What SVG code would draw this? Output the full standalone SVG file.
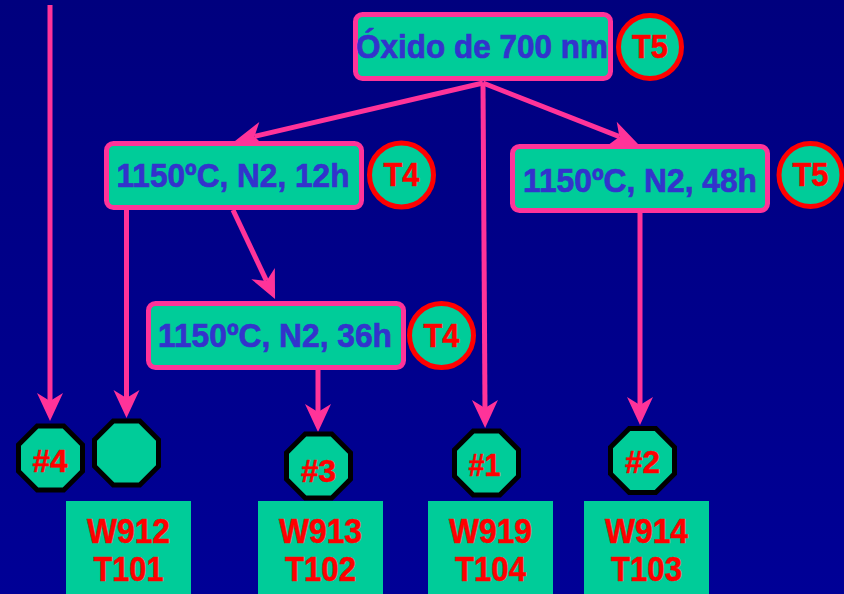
<svg xmlns="http://www.w3.org/2000/svg" width="844" height="594" viewBox="0 0 844 594">
<defs>
<linearGradient id="bg" x1="0" y1="0" x2="0" y2="1">
<stop offset="0" stop-color="#00007E"/>
<stop offset="1" stop-color="#000096"/>
</linearGradient>
<marker id="ah" markerUnits="userSpaceOnUse" markerWidth="28" markerHeight="26" refX="8" refY="13" orient="auto" overflow="visible">
<path d="M0,0 L28,13 L0,26 L8,13 Z" fill="#FF3399"/>
</marker>
<polygon id="oct" points="-13.25,-32 13.25,-32 32,-13.25 32,13.25 13.25,32 -13.25,32 -32,13.25 -32,-13.25"/>
</defs>
<style>
.box{fill:#00CC99;stroke:#FF3399;stroke-width:5}
.bt{font-family:"Liberation Sans",Arial,sans-serif;font-weight:bold;font-size:34px;fill:#3333CC;stroke:#3333CC;stroke-width:0.7;text-anchor:middle}
.tc{fill:#00CC99;stroke:#FF0000;stroke-width:5}
.tt{font-family:"Liberation Sans",Arial,sans-serif;font-weight:bold;font-size:33px;fill:#FF0000;stroke:#FF0000;stroke-width:0.5;text-anchor:middle}
.oc{fill:#00CC99;stroke:#000000;stroke-width:5}
.ot{font-family:"Liberation Sans",Arial,sans-serif;font-weight:bold;font-size:31px;fill:#FF0000;stroke:#FF0000;stroke-width:0.5;text-anchor:middle}
.wb{fill:#00CC99}
.wt{font-family:"Liberation Sans",Arial,sans-serif;font-weight:bold;font-size:35px;fill:#FF0000;stroke:#FF0000;stroke-width:0.5;text-anchor:middle}
.c{stroke:#FF3399;stroke-width:5;fill:none;marker-end:url(#ah)}
</style>
<rect width="844" height="594" fill="url(#bg)"/>
<g id="connectors">
<line class="c" x1="50" y1="5" x2="50" y2="401"/>
<line class="c" x1="126.5" y1="210" x2="126.5" y2="398"/>
<line class="c" x1="233" y1="210" x2="266.5" y2="280.9"/>
<line class="c" x1="318" y1="370" x2="318" y2="412"/>
<line class="c" x1="483" y1="83" x2="254.5" y2="136.4"/>
<line class="c" x1="483" y1="83" x2="619.4" y2="136.7"/>
<line class="c" x1="483" y1="83" x2="485" y2="408"/>
<line class="c" x1="640" y1="213" x2="640" y2="405"/>
</g>
<g id="oxide">
<rect class="box" x="355.5" y="14.5" width="255" height="64" rx="7"/>
<text class="bt" x="482" y="58" textLength="252" lengthAdjust="spacingAndGlyphs">Óxido de 700 nm</text>
</g>
<g id="t5a">
<circle class="tc" cx="650" cy="47" r="31.5"/>
<text class="tt" x="650" y="58" textLength="36" lengthAdjust="spacingAndGlyphs">T5</text>
</g>
<g id="anneal12">
<rect class="box" x="106.5" y="143.5" width="255" height="64" rx="7"/>
<text class="bt" x="233" y="187" textLength="233" lengthAdjust="spacingAndGlyphs">1150ºC, N2, 12h</text>
</g>
<g id="t4a">
<circle class="tc" cx="401.5" cy="175" r="32"/>
<text class="tt" x="401.5" y="186" textLength="36" lengthAdjust="spacingAndGlyphs">T4</text>
</g>
<g id="anneal48">
<rect class="box" x="512.5" y="146.5" width="255" height="64" rx="7"/>
<text class="bt" x="640" y="192" textLength="234" lengthAdjust="spacingAndGlyphs">1150ºC, N2, 48h</text>
</g>
<g id="t5b">
<circle class="tc" cx="810.5" cy="175" r="31.5"/>
<text class="tt" x="810.5" y="186" textLength="36" lengthAdjust="spacingAndGlyphs">T5</text>
</g>
<g id="anneal36">
<rect class="box" x="148.5" y="303.5" width="255" height="64" rx="7"/>
<text class="bt" x="275" y="347" textLength="234" lengthAdjust="spacingAndGlyphs">1150ºC, N2, 36h</text>
</g>
<g id="t4b">
<circle class="tc" cx="441.5" cy="335.5" r="32"/>
<text class="tt" x="441.5" y="347" textLength="36" lengthAdjust="spacingAndGlyphs">T4</text>
</g>
<g id="n4">
<use href="#oct" class="oc" transform="translate(50.5,458)"/>
<text class="ot" x="50" y="472" textLength="35" lengthAdjust="spacingAndGlyphs">#4</text>
</g>
<g id="nblank">
<use href="#oct" class="oc" transform="translate(126.5,453)"/>
</g>
<g id="n3">
<use href="#oct" class="oc" transform="translate(318.5,466)"/>
<text class="ot" x="318.5" y="482" textLength="35" lengthAdjust="spacingAndGlyphs">#3</text>
</g>
<g id="n1">
<use href="#oct" class="oc" transform="translate(486.5,463)"/>
<text class="ot" x="484.5" y="476" textLength="32" lengthAdjust="spacingAndGlyphs">#1</text>
</g>
<g id="n2">
<use href="#oct" class="oc" transform="translate(642.5,460.5)"/>
<text class="ot" x="642.5" y="473" textLength="35" lengthAdjust="spacingAndGlyphs">#2</text>
</g>
<g id="w912">
<rect class="wb" x="66" y="501" width="125" height="93"/>
<text class="wt" x="128.5" y="543" textLength="83" lengthAdjust="spacingAndGlyphs">W912</text>
<text class="wt" x="128.5" y="581" textLength="70" lengthAdjust="spacingAndGlyphs">T101</text>
</g>
<g id="w913">
<rect class="wb" x="258" y="501" width="125" height="93"/>
<text class="wt" x="320.5" y="543" textLength="83" lengthAdjust="spacingAndGlyphs">W913</text>
<text class="wt" x="320.5" y="581" textLength="71" lengthAdjust="spacingAndGlyphs">T102</text>
</g>
<g id="w919">
<rect class="wb" x="428" y="501" width="125" height="93"/>
<text class="wt" x="490.5" y="543" textLength="83" lengthAdjust="spacingAndGlyphs">W919</text>
<text class="wt" x="490.5" y="581" textLength="71" lengthAdjust="spacingAndGlyphs">T104</text>
</g>
<g id="w914">
<rect class="wb" x="584" y="501" width="125" height="93"/>
<text class="wt" x="646.5" y="543" textLength="83" lengthAdjust="spacingAndGlyphs">W914</text>
<text class="wt" x="646.5" y="581" textLength="71" lengthAdjust="spacingAndGlyphs">T103</text>
</g>
</svg>
